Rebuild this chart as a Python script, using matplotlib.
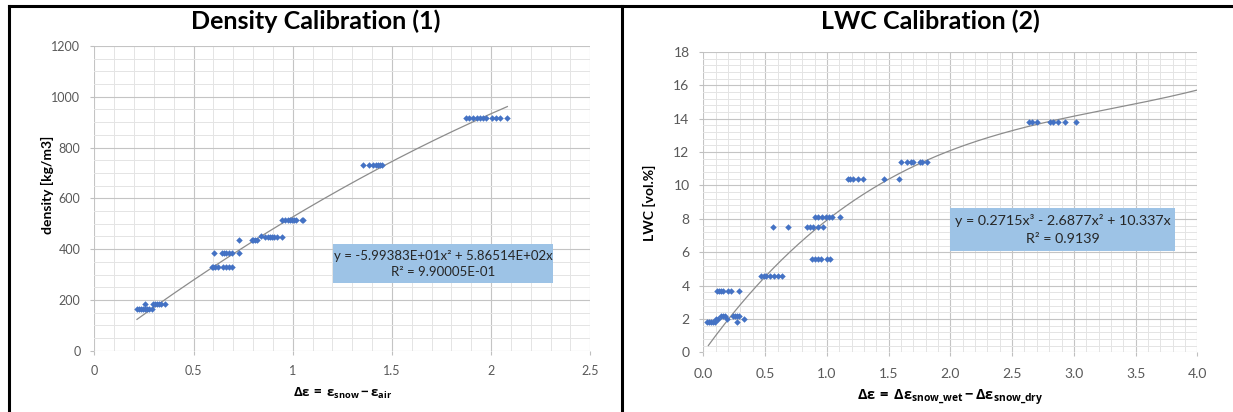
import matplotlib
matplotlib.use("Agg")
import matplotlib.pyplot as plt
from matplotlib.ticker import MultipleLocator, FuncFormatter
from matplotlib.patches import Rectangle
from matplotlib.lines import Line2D
import numpy as np

plt.rcParams['font.family'] = ['Lato', 'DejaVu Sans']
# math text only used for the bold x labels with subscripts
plt.rcParams['mathtext.fontset'] = 'custom'
plt.rcParams['mathtext.rm'] = 'Open Sans:bold'
plt.rcParams['mathtext.bf'] = 'Open Sans:bold'
plt.rcParams['mathtext.default'] = 'rm'

# --- Density calibration (1) ---
dens_x = [0.215, 0.225, 0.235, 0.245, 0.255, 0.265, 0.275, 0.29,
          0.255, 0.295, 0.305, 0.315, 0.325, 0.335, 0.355,
          0.592, 0.60, 0.61, 0.625, 0.65, 0.665, 0.68, 0.693,
          0.605, 0.642, 0.652, 0.662, 0.68, 0.693, 0.731,
          0.729,
          0.793, 0.80, 0.81, 0.819,
          0.84,
          0.86, 0.875, 0.885, 0.895, 0.905, 0.92, 0.944,
          0.944, 0.96, 0.975, 0.985, 0.995, 1.005, 1.015, 1.045, 1.053,
          1.356, 1.385, 1.405, 1.42, 1.43, 1.44, 1.449,
          1.873, 1.89, 1.907, 1.927, 1.944, 1.96, 1.977, 2.003, 2.025, 2.045, 2.082]
dens_y = [165] * 8 + [185] * 7 + [330] * 8 + [385] * 7 + [437] + [437] * 4 + [450] + \
         [447] * 7 + [515] * 9 + [730] * 7 + [915] * 11
dens_coef = [-5.99383e+01, 5.86514e+02, 0.0]
dens_fit_range = [0.215, 2.082]
dens_eq = "y = -5.99383E+01x² + 5.86514E+02x"
dens_r2 = "R² = 9.90005E-01"

# --- LWC calibration (2) ---
lwc_x = [0.027, 0.045, 0.06, 0.075, 0.094, 0.275,
         0.10, 0.12, 0.19, 0.33,
         0.14, 0.16, 0.175, 0.237, 0.255, 0.27, 0.29,
         0.107, 0.125, 0.145, 0.161, 0.20, 0.22, 0.29,
         0.464, 0.49, 0.51, 0.54, 0.57, 0.60, 0.634,
         0.877, 0.90, 0.925, 0.95, 1.0, 1.025,
         0.56, 0.688, 0.836, 0.86, 0.89, 0.93, 0.97,
         0.90, 0.93, 0.96, 0.99, 1.02, 1.04, 1.106,
         1.17, 1.19, 1.21, 1.25, 1.295, 1.46, 1.58,
         1.597, 1.65, 1.68, 1.70, 1.75, 1.77, 1.81,
         2.64, 2.66, 2.70, 2.81, 2.83, 2.875, 2.93, 3.015]
lwc_y = [1.8] * 6 + [2.0] * 4 + [2.2] * 7 + [3.7] * 7 + [4.6] * 7 + [5.6] * 6 + \
        [7.5] * 7 + [8.1] * 7 + [10.4] * 7 + [11.4] * 7 + [13.8] * 8
lwc_coef = [0.2715, -2.6877, 10.337, 0.0]
lwc_fit_range = [0.04, 4.0]
lwc_eq = "y = 0.2715x³ - 2.6877x² + 10.337x"
lwc_r2 = "R² = 0.9139"

MARKER_C = '#4472C4'
BOX_C = '#9DC3E6'
TICK_C = '#595959'


def style_axes(ax, xmax, xmaj, xmin, ymax, ymaj, ymin, xfmt, fs, xpad):
    ax.set_xlim(0, xmax)
    ax.set_ylim(0, ymax)
    ax.xaxis.set_major_locator(MultipleLocator(xmaj))
    ax.xaxis.set_minor_locator(MultipleLocator(xmin))
    ax.yaxis.set_major_locator(MultipleLocator(ymaj))
    ax.yaxis.set_minor_locator(MultipleLocator(ymin))
    ax.xaxis.set_major_formatter(FuncFormatter(xfmt))
    ax.grid(which='major', color='#C4C4C4', lw=0.8)
    ax.grid(which='minor', color='#E4E4E4', lw=0.7)
    ax.set_axisbelow(True)
    for s in ax.spines.values():
        s.set_visible(False)
    ax.tick_params(which='major', length=3, color='#BFBFBF', labelcolor=TICK_C, labelsize=fs)
    ax.tick_params(axis='x', pad=xpad)
    ax.tick_params(axis='y', pad=7)
    ax.tick_params(which='minor', length=0)


def add_box(ax, x0, y0, x1, y1, line1, line2, fs):
    ax.add_patch(Rectangle((x0, y0), x1 - x0, y1 - y0, transform=ax.transAxes,
                           facecolor=BOX_C, edgecolor='none', zorder=4))
    xc = (x0 + x1) / 2
    h = y1 - y0
    ax.text(xc, y0 + h * 0.70, line1, transform=ax.transAxes, ha='center', va='center',
            fontsize=fs, color='#262626', zorder=5)
    ax.text(xc, y0 + h * 0.28, line2, transform=ax.transAxes, ha='center', va='center',
            fontsize=fs, color='#262626', zorder=5)


fig = plt.figure(figsize=(12.33, 4.12), dpi=100)
ax1 = fig.add_axes([0.0765, 0.1488, 0.4022, 0.7396])
ax2 = fig.add_axes([0.5705, 0.1449, 0.4006, 0.7289])

# left panel
style_axes(ax1, 2.5, 0.5, 0.1, 1200, 200, 50, lambda v, p: '%g' % v, 9, 7.5)
xf = np.linspace(dens_fit_range[0], dens_fit_range[1], 200)
ax1.plot(xf, np.polyval(dens_coef, xf), color='#8C8C8C', lw=0.9, zorder=2)
ax1.plot(dens_x, dens_y, 'D', color=MARKER_C, ms=3.3, mew=0, zorder=3)
add_box(ax1, 0.481, 0.222, 0.925, 0.350, dens_eq, dens_r2, 9.5)
ax1.text(-0.095, 0.544, 'density [kg/m3]', transform=ax1.transAxes, rotation=90,
         ha='center', va='center', fontsize=10, fontweight='bold')
ax1.text(0.501, -0.139, r'$Δε\,=\,ε_{snow}\,\mathrm{-}\,ε_{air}$', transform=ax1.transAxes,
         ha='center', va='center', fontsize=9.5)

# right panel
style_axes(ax2, 4.0, 0.5, 0.1, 18, 2, 0.4, lambda v, p: '%.1f' % v, 10, 8.5)
xf = np.linspace(lwc_fit_range[0], lwc_fit_range[1], 300)
ax2.plot(xf, np.polyval(lwc_coef, xf), color='#8C8C8C', lw=0.9, zorder=2)
ax2.plot(lwc_x, lwc_y, 'D', color=MARKER_C, ms=3.3, mew=0, zorder=3)
add_box(ax2, 0.500, 0.338, 0.954, 0.481, lwc_eq, lwc_r2, 10.3)
ax2.text(-0.109, 0.499, 'LWC [vol.%]', transform=ax2.transAxes, rotation=90,
         ha='center', va='center', fontsize=10, fontweight='bold')
ax2.text(0.499, -0.152, r'$Δε\,=\,Δε_{snow\_wet}\,\mathrm{-}\,Δε_{snow\_dry}$',
         transform=ax2.transAxes, ha='center', va='center', fontsize=10.5)

# titles
fig.text(316 / 1233, 1 - 21 / 412, 'Density Calibration (1)', ha='center', va='center',
         fontsize=18, fontweight='bold')
fig.text(930 / 1233, 1 - 21 / 412, 'LWC Calibration (2)', ha='center', va='center',
         fontsize=18, fontweight='bold')

# frame lines
fig.add_artist(Line2D([8.5 / 1233, 1], [1 - 6 / 412] * 2, transform=fig.transFigure,
                      color='black', lw=2.2))
fig.add_artist(Line2D([8.5 / 1233] * 2, [0, 1 - 6 / 412], transform=fig.transFigure,
                      color='black', lw=2.2))
fig.add_artist(Line2D([622 / 1233] * 2, [0, 1 - 6 / 412], transform=fig.transFigure,
                      color='black', lw=2.2))

fig.savefig('out.png', dpi=100)
